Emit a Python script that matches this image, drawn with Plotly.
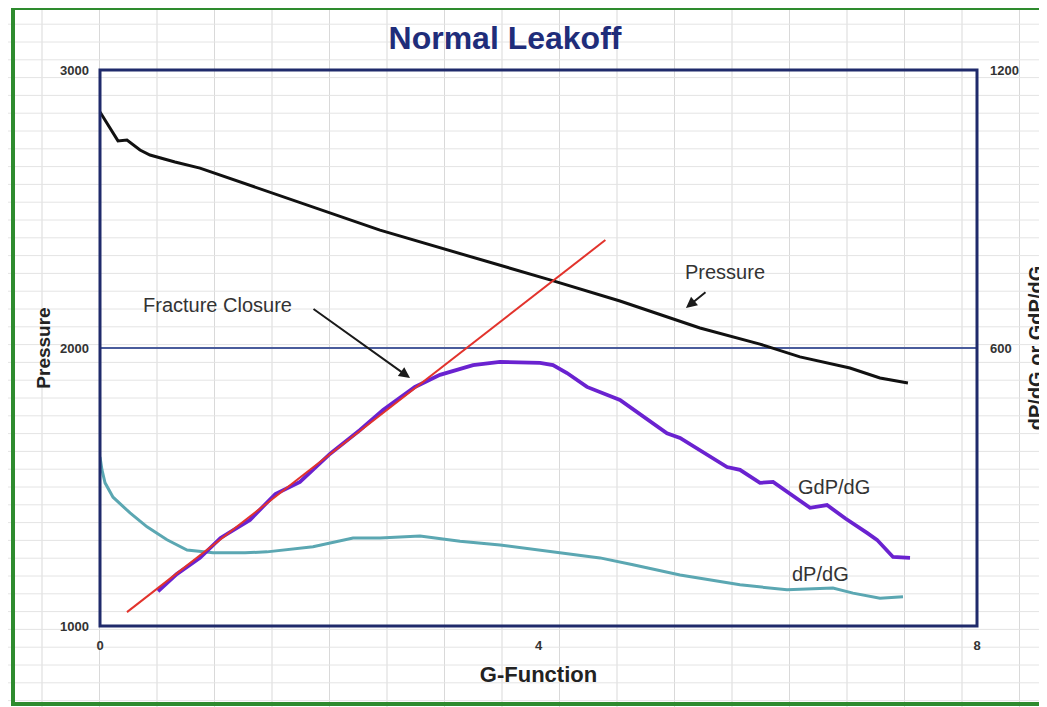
import plotly.graph_objects as go

# ---------------- data ----------------
g_pressure = [0, 0.164, 0.246, 0.365, 0.456, 0.684, 0.912, 1.733, 2.554, 4.105,
              4.743, 5.473, 6.020, 6.385, 6.841, 7.115, 7.370]
pressure = [2849, 2745, 2748, 2712, 2694, 2669, 2647, 2536, 2424, 2245,
            2169, 2072, 2014, 1968, 1928, 1892, 1874]

g_gdpdg = [0.529, 0.70, 0.912, 1.10, 1.368, 1.60, 1.824, 2.10, 2.372, 2.582,
           2.873, 3.101, 3.403, 3.649, 4.014, 4.132, 4.26, 4.442, 4.743, 5.0,
           5.172, 5.291, 5.5, 5.72, 5.838, 6.02, 6.14, 6.30, 6.477, 6.632,
           6.80, 6.997, 7.088, 7.234, 7.389]
gdpdg = [75, 112, 147, 190, 229, 285, 311, 372, 423, 466,
         516, 542, 563, 570, 568, 563, 546, 516, 488, 445,
         416, 406, 375, 343, 337, 309, 311, 285, 255, 261,
         232, 201, 186, 149, 147]

g_dpdg = [0, 0.018, 0.046, 0.119, 0.274, 0.429, 0.611, 0.794, 1.031, 1.323,
          1.523, 1.943, 2.308, 2.554, 2.919, 3.284, 3.649, 4.196, 4.561, 4.862,
          5.291, 5.838, 6.267, 6.686, 6.869, 7.115, 7.325]
dpdg = [365, 337, 309, 278, 244, 214, 186, 164, 158, 158,
        160, 171, 190, 190, 194, 183, 175, 158, 147, 132,
        110, 89, 78, 82, 71, 60, 63]

g_fit = [0.246, 4.61]
fit = [30, 833]

x_ticks = [0, 4, 8]
left_ticks = [1000, 2000, 3000]
right_ticks = [600, 1200]

FONT = "Liberation Sans, Arial, sans-serif"
NAVY = "#1f2a6b"

# the page body has an 8px margin, so the figure is laid out 8px smaller
OFF = 8
W, H = 1047 - OFF, 707 - OFF
PL, PR, PT, PB = 100 - OFF, 977 - OFF, 70 - OFF, 626 - OFF


def px_x(X):  # reference-image pixel -> paper x
    return (X - OFF - PL) / (PR - PL)


def px_y(Y):  # reference-image pixel -> paper y
    return (PB - (Y - OFF)) / (PB - PT)


fig = go.Figure()
fig.add_trace(go.Scatter(x=g_pressure, y=pressure, mode="lines", name="Pressure",
                         line=dict(color="#111111", width=3), yaxis="y"))
fig.add_trace(go.Scatter(x=g_dpdg, y=dpdg, mode="lines", name="dP/dG",
                         line=dict(color="#5ba7b2", width=3), yaxis="y2"))
fig.add_trace(go.Scatter(x=g_gdpdg, y=gdpdg, mode="lines", name="GdP/dG",
                         line=dict(color="#6a22d0", width=3.8), yaxis="y2"))
fig.add_trace(go.Scatter(x=g_fit, y=fit, mode="lines", name="Fit",
                         line=dict(color="#e2332c", width=2), yaxis="y2"))

shapes = []
for k in range(0, 19):
    X = 42 + 57.5 * k
    shapes.append(dict(type="line", xref="paper", yref="paper", x0=px_x(X), x1=px_x(X),
                       y0=px_y(0), y1=px_y(720), line=dict(color="#d9d9d9", width=1),
                       layer="below"))
for k in range(-2, 38):
    Y = 42 + 17.8 * k
    shapes.append(dict(type="line", xref="paper", yref="paper", x0=px_x(0), x1=px_x(1060),
                       y0=px_y(Y), y1=px_y(Y), line=dict(color="#e4e4e4", width=1),
                       layer="below"))
# green outer border
shapes.append(dict(type="rect", xref="paper", yref="paper", x0=px_x(13), x1=px_x(1056),
                   y0=px_y(704), y1=px_y(8), line=dict(color="#2e8b2e", width=4),
                   layer="above"))
# navy plot frame
shapes.append(dict(type="rect", xref="paper", yref="paper", x0=0, x1=1, y0=0, y1=1,
                   line=dict(color=NAVY, width=3), layer="above"))

afont = dict(family=FONT, size=20, color="#333333")
annotations = [
    dict(x=5.701, y=2273, xref="x", yref="y", text="Pressure", showarrow=False, font=afont),
    dict(x=5.345, y=2144, xref="x", yref="y", ax=5.537, ay=2205, axref="x", ayref="y",
         text="", showarrow=True, arrowhead=2, arrowsize=1.1, arrowwidth=2,
         arrowcolor="#1a1a1a"),
    dict(x=1.076, y=2155, xref="x", yref="y", text="Fracture Closure", showarrow=False,
         font=afont),
    dict(x=2.828, y=1892, xref="x", yref="y", ax=1.934, ay=2144, axref="x", ayref="y",
         text="", showarrow=True, arrowhead=2, arrowsize=1.1, arrowwidth=2,
         arrowcolor="#1a1a1a"),
    dict(x=6.696, y=300, xref="x", yref="y2", text="GdP/dG", showarrow=False, font=afont),
    dict(x=6.568, y=112, xref="x", yref="y2", text="dP/dG", showarrow=False, font=afont),
]

tickfont = dict(family=FONT, size=13, color="#333333", weight="bold")

fig.update_layout(
    width=W, height=H, autosize=False,
    margin=dict(l=PL, r=W - PR, t=PT, b=H - PB, pad=0, autoexpand=False),
    paper_bgcolor="white", plot_bgcolor="rgba(0,0,0,0)",
    showlegend=False,
    title=dict(text="<b>Normal Leakoff</b>", x=px_x(505), xref="paper", xanchor="center",
               y=1 - (38 - OFF) / H, yref="container", yanchor="middle",
               font=dict(family=FONT, size=32, color="#1f2d7a"), automargin=False),
    xaxis=dict(range=[0, 8], tickvals=x_ticks, ticktext=[str(v) for v in x_ticks],
               showgrid=False, zeroline=False, showline=False, ticks="",
               tickfont=tickfont, ticklabelstandoff=10, automargin=False,
               title=dict(text="<b>G-Function</b>", standoff=14,
                          font=dict(family=FONT, size=22, color="#222222"))),
    yaxis=dict(range=[1000, 3000], tickvals=left_ticks, showgrid=True,
               gridcolor="#4a5c9c", gridwidth=1.5, zeroline=False, showline=False,
               ticks="", tickfont=tickfont, ticklabelstandoff=10, automargin=False,
               title=dict(text="<b>Pressure</b>", standoff=4,
                          font=dict(family=FONT, size=19, color="#222222"))),
    yaxis2=dict(range=[0, 1200], tickvals=right_ticks, overlaying="y", side="right",
                showgrid=False, zeroline=False, showline=False, ticks="",
                tickfont=tickfont, ticklabelstandoff=12, automargin=False,
                title=dict(text="<b>dP/dG or GdP/dG</b>", standoff=11,
                           font=dict(family=FONT, size=20, color="#222222"))),
    shapes=shapes,
    annotations=annotations,
)

fig.write_html("out.html")
